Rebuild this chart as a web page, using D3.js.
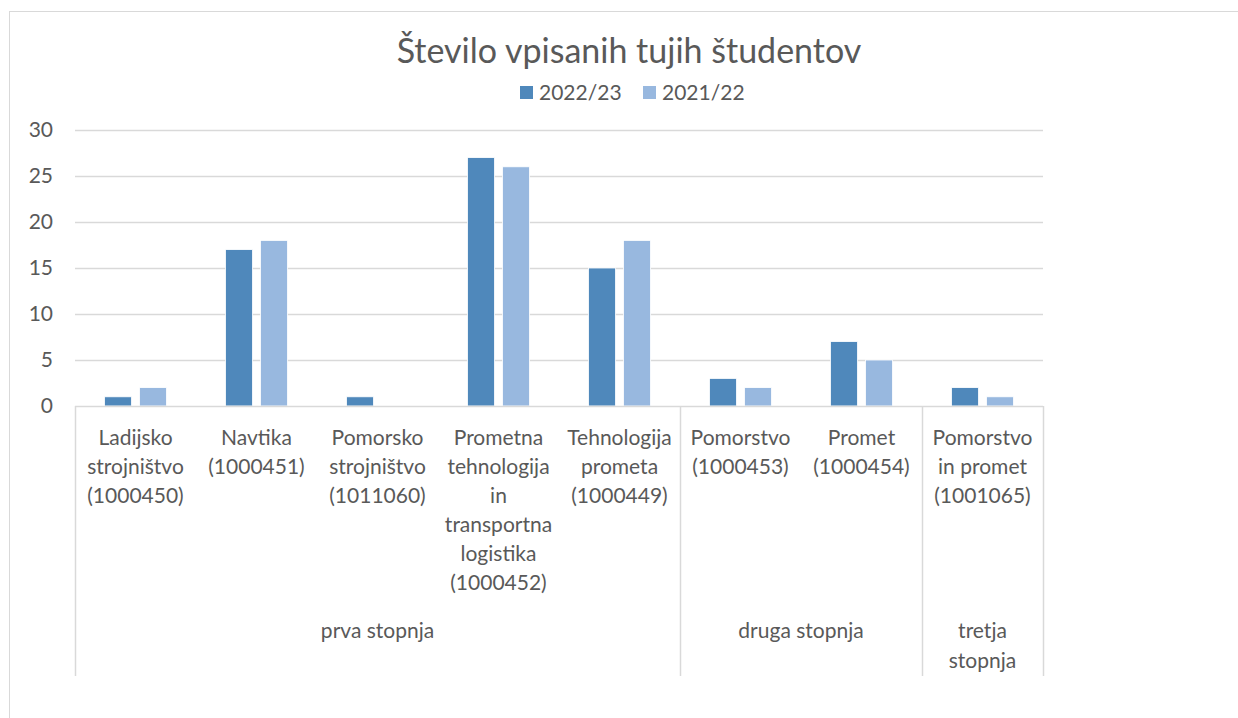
<!DOCTYPE html>
<html>
<head>
<meta charset="utf-8">
<script src="https://cdn.jsdelivr.net/npm/d3@7"></script>
<style>
  body { margin: 0; background: #fff; }
  svg { display: block; font-family: Lato, "Open Sans", sans-serif; }
</style>
</head>
<body>
<div id="chart"></div>
<script>
// data
var categories = ["Ladijsko strojništvo (1000450)", "Navtika (1000451)", "Pomorsko strojništvo (1011060)",
    "Prometna tehnologija in transportna logistika (1000452)", "Tehnologija prometa (1000449)",
    "Pomorstvo (1000453)", "Promet (1000454)", "Pomorstvo in promet (1001065)"];
var categoryLines = [
    ["Ladijsko", "strojništvo", "(1000450)"],
    ["Navtika", "(1000451)"],
    ["Pomorsko", "strojništvo", "(1011060)"],
    ["Prometna", "tehnologija", "in", "transportna", "logistika", "(1000452)"],
    ["Tehnologija", "prometa", "(1000449)"],
    ["Pomorstvo", "(1000453)"],
    ["Promet", "(1000454)"],
    ["Pomorstvo", "in promet", "(1001065)"]
];
var groups = ["prva stopnja", "druga stopnja", "tretja stopnja"];
var groupLines = [["prva stopnja"], ["druga stopnja"], ["tretja", "stopnja"]];
var groupSizes = [5, 2, 1];
var series = ["2022/23", "2021/22"];
var values2223 = [1, 17, 1, 27, 15, 3, 7, 2];
var values2122 = [2, 18, 0, 26, 18, 2, 5, 1];
var yTicks = [0, 5, 10, 15, 20, 25, 30];

function drawChart() {
    var W = 1238, H = 718;
    var colors = {"2022/23": "#4f88bb", "2021/22": "#98b8df"};
    var textColor = "#595959", gridColor = "#d9d9d9";

    var svg = d3.select("#chart").append("svg")
        .attr("width", W)
        .attr("height", H);

    // chart frame (runs off the page on the right and bottom)
    svg.append("rect")
        .attr("x", 9.5).attr("y", 11.5)
        .attr("width", 1400).attr("height", 900)
        .attr("fill", "none")
        .attr("stroke", gridColor);

    var plotLeft = 75, plotRight = 1043, plotTop = 130, plotBottom = 406;

    var x = d3.scaleBand()
        .domain(categories)
        .range([plotLeft, plotRight]);

    var xInner = d3.scaleBand()
        .domain(series)
        .range([0, x.bandwidth()])
        .paddingInner(8 / 35)
        .paddingOuter(0.843);

    var y = d3.scaleLinear()
        .domain([0, 30])
        .range([plotBottom, plotTop]);

    // title
    svg.append("text")
        .attr("x", 629)
        .attr("y", 63)
        .attr("text-anchor", "middle")
        .attr("fill", textColor)
        .style("font-size", "34px")
        .text("Število vpisanih tujih študentov");

    // legend
    var legendX = [520, 643];
    series.forEach(function(s, i) {
        var g = svg.append("g").attr("transform", "translate(" + legendX[i] + ",86)");
        g.append("rect").attr("width", 13).attr("height", 13).attr("fill", colors[s]);
        g.append("text")
            .attr("x", 19).attr("y", 14)
            .attr("fill", textColor)
            .style("font-size", "21px")
            .text(s);
    });

    // gridlines
    svg.append("g")
        .selectAll("line")
        .data(yTicks.filter(function(d) { return d > 0; }))
        .enter().append("line")
        .attr("x1", plotLeft).attr("x2", plotRight)
        .attr("y1", function(d) { return y(d) + 0.5; })
        .attr("y2", function(d) { return y(d) + 0.5; })
        .attr("stroke", gridColor)
        .attr("stroke-width", 1.5);

    // y axis labels
    var yAxis = svg.append("g")
        .attr("transform", "translate(" + plotLeft + ",0)")
        .call(d3.axisLeft(y).tickValues(yTicks).tickSize(0).tickPadding(22));
    yAxis.select(".domain").remove();
    yAxis.selectAll("text")
        .attr("fill", textColor)
        .style("font-size", "21px")
        .style("font-family", "Lato, 'Open Sans', sans-serif");

    // bars
    var table = categories.map(function(c, i) {
        return {cat: c, vals: [{s: series[0], v: values2223[i]}, {s: series[1], v: values2122[i]}]};
    });

    svg.append("g")
        .selectAll("g")
        .data(table)
        .enter().append("g")
        .attr("transform", function(d) { return "translate(" + x(d.cat) + ",0)"; })
        .selectAll("rect")
        .data(function(d) { return d.vals.filter(function(e) { return e.v > 0; }); })
        .enter().append("rect")
        .attr("x", function(d) { return xInner(d.s); })
        .attr("width", xInner.bandwidth())
        .attr("y", function(d) { return y(d.v); })
        .attr("height", function(d) { return y(0) - y(d.v); })
        .attr("fill", function(d) { return colors[d.s]; })
        .attr("stroke", "#ffffff")
        .attr("stroke-width", 0.8);

    // category axis line
    svg.append("line")
        .attr("x1", plotLeft).attr("x2", plotRight)
        .attr("y1", plotBottom + 0.5).attr("y2", plotBottom + 0.5)
        .attr("stroke", gridColor)
        .attr("stroke-width", 1.5);

    // group dividers
    var divIdx = [0];
    groupSizes.forEach(function(n, i) { divIdx.push(divIdx[i] + n); });
    var divX = divIdx.map(function(k) { return k < categories.length ? x(categories[k]) : plotRight; });
    svg.append("g")
        .selectAll("line")
        .data(divX)
        .enter().append("line")
        .attr("x1", function(d) { return d + 0.5; })
        .attr("x2", function(d) { return d + 0.5; })
        .attr("y1", plotBottom)
        .attr("y2", 676)
        .attr("stroke", gridColor)
        .attr("stroke-width", 1.5);

    // category labels
    var lineH = 29;
    categoryLines.forEach(function(lines, i) {
        var cx = x(categories[i]) + x.bandwidth() / 2;
        var t = svg.append("text")
            .attr("text-anchor", "middle")
            .attr("fill", textColor)
            .style("font-size", "21px");
        lines.forEach(function(l, j) {
            t.append("tspan").attr("x", cx).attr("y", 445 + j * lineH).text(l);
        });
    });

    // group labels
    groups.forEach(function(g, i) {
        var cx = (divX[i] + divX[i + 1]) / 2;
        var t = svg.append("text")
            .attr("text-anchor", "middle")
            .attr("fill", textColor)
            .style("font-size", "21px");
        groupLines[i].forEach(function(l, j) {
            t.append("tspan").attr("x", cx).attr("y", 638 + j * 30).text(l);
        });
    });
}

drawChart();
</script>
</body>
</html>
